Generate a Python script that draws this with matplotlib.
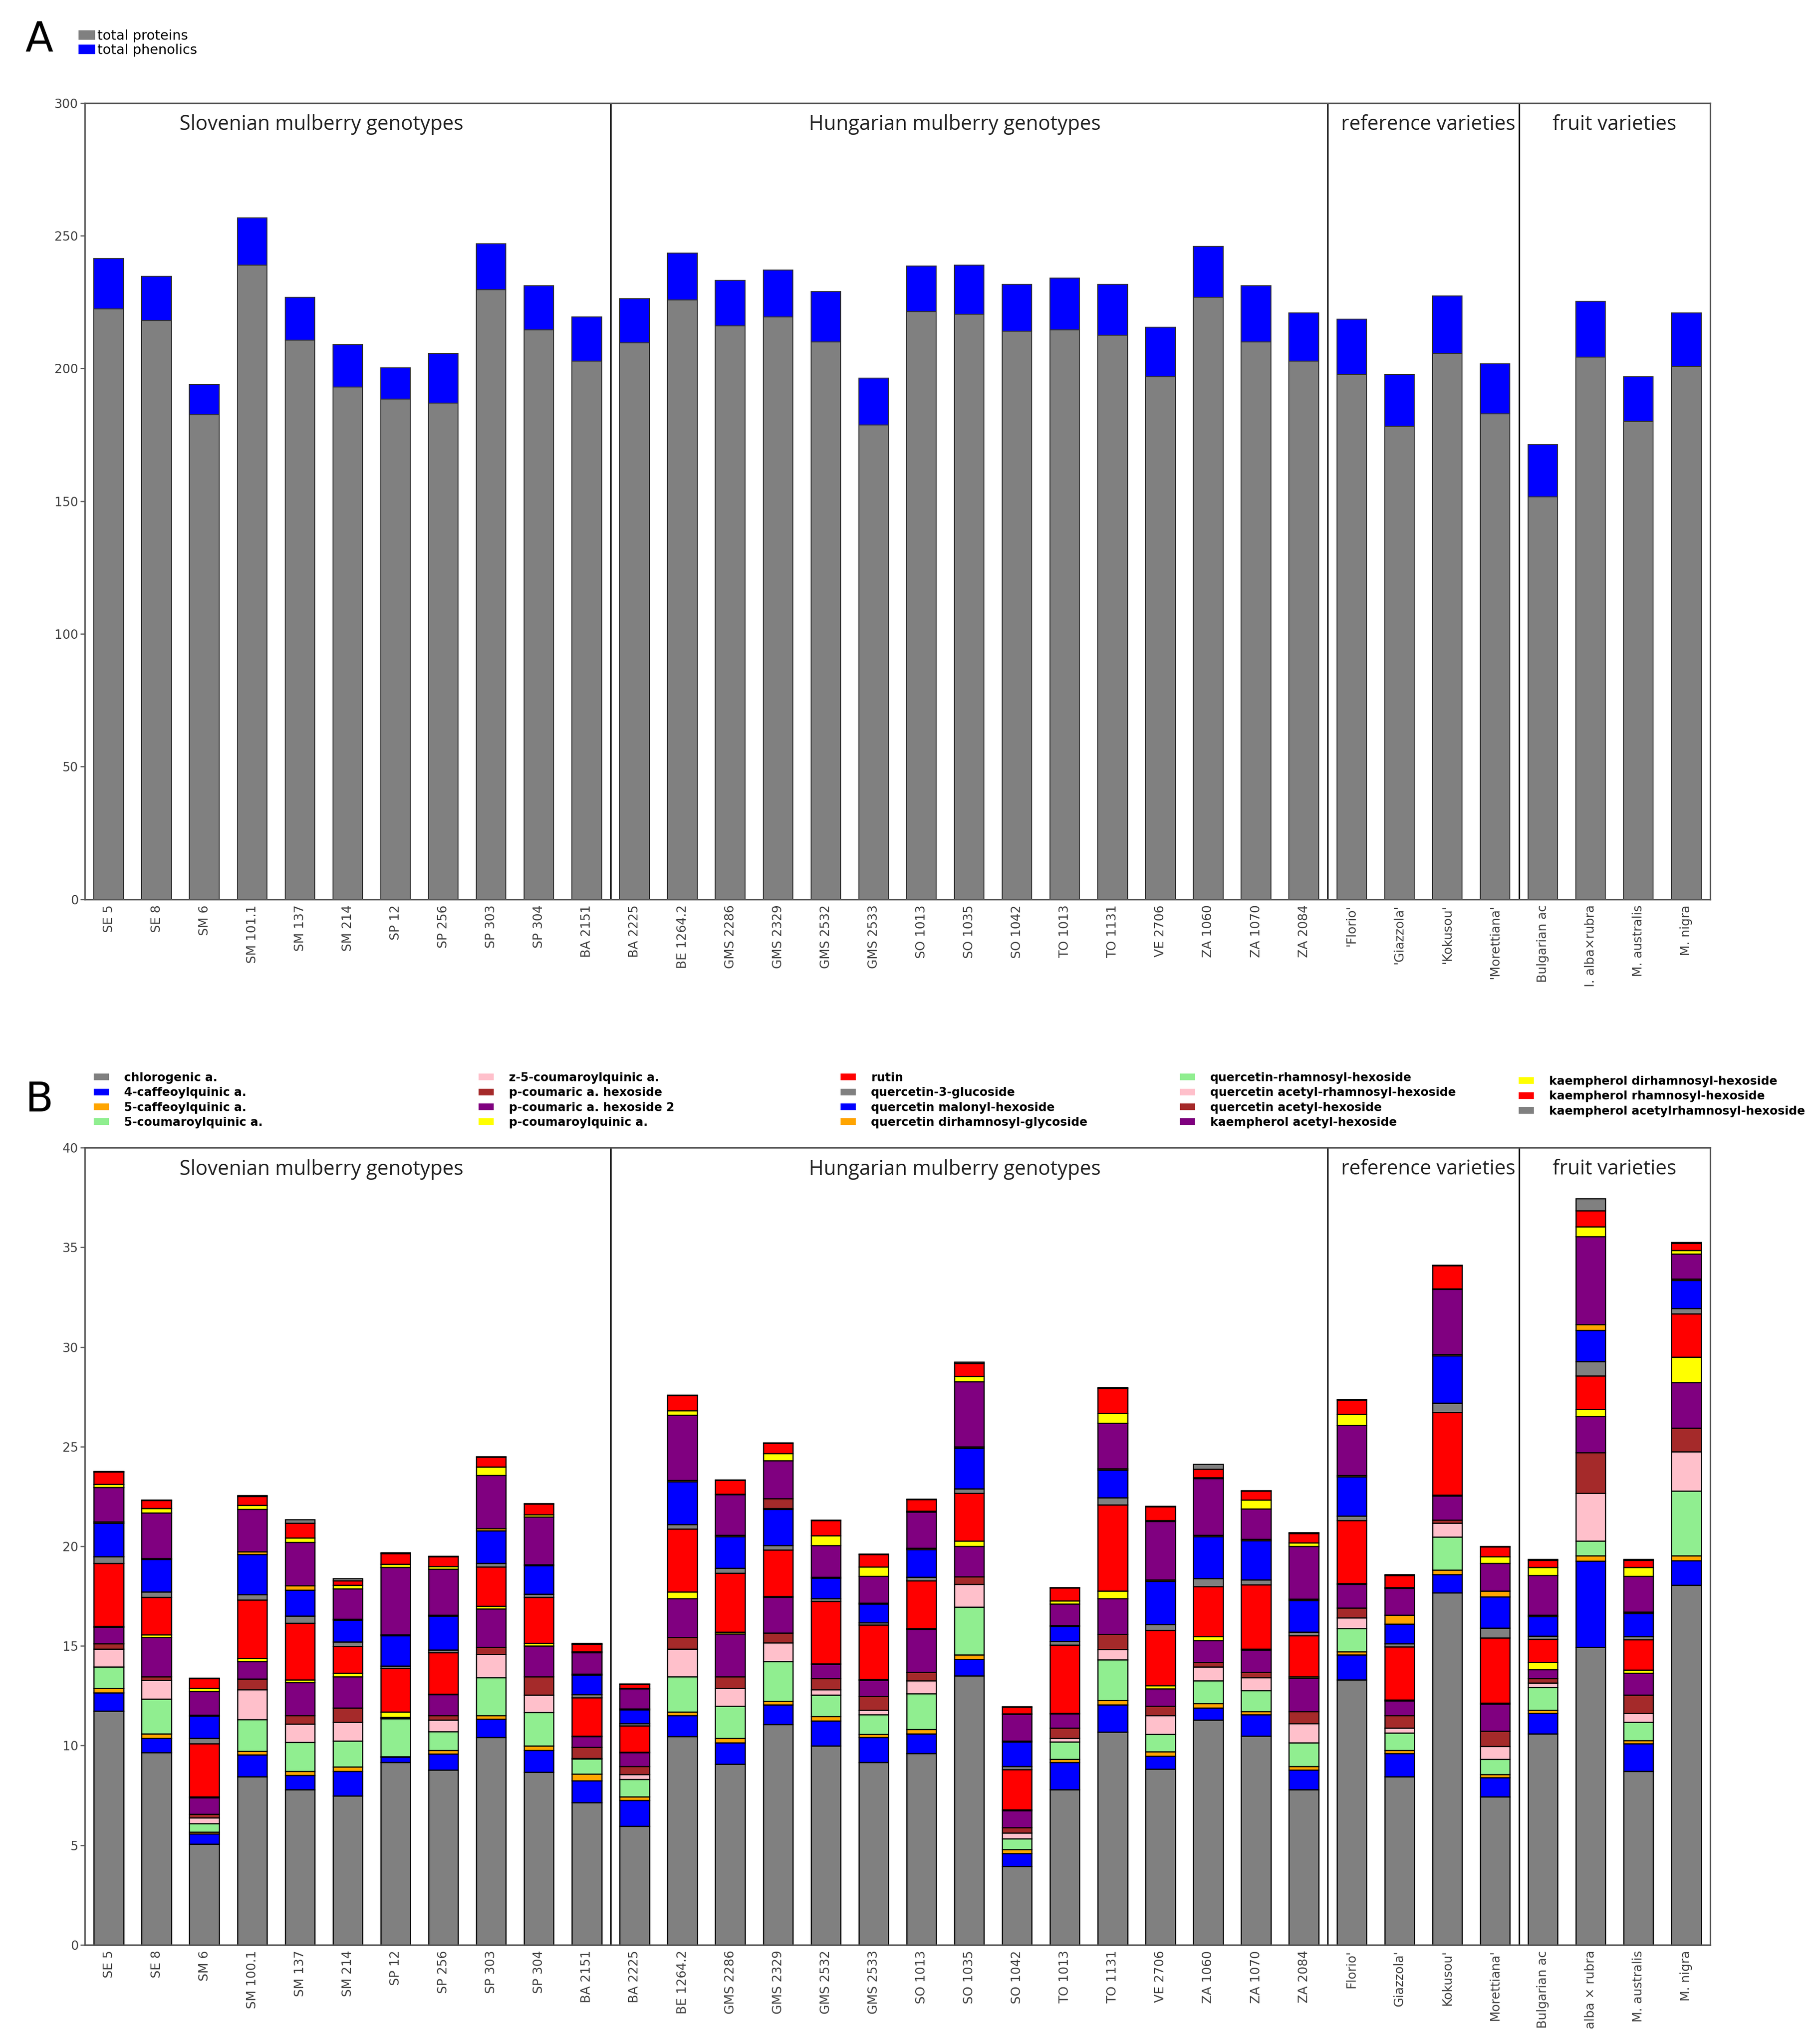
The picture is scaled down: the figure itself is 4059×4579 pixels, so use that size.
import numpy as np
import matplotlib
matplotlib.use("Agg")
import matplotlib.pyplot as plt
from matplotlib.patches import Patch

# ---------------- data ----------------
labels_A = ["SE 5", "SE 8", "SM 6", "SM 101.1", "SM 137", "SM 214", "SP 12", "SP 256", "SP 303",
            "SP 304", "BA 2151", "BA 2225", "BE 1264.2", "GMS 2286", "GMS 2329", "GMS 2532",
            "GMS 2533", "SO 1013", "SO 1035", "SO 1042", "TO 1013", "TO 1131", "VE 2706",
            "ZA 1060", "ZA 1070", "ZA 2084", "'Florio'", "'Giazzola'", "'Kokusou'", "'Morettiana'",
            "Bulgarian ac", "I. alba×rubra", "M. australis", "M. nigra"]
labels_B = ["SE 5", "SE 8", "SM 6", "SM 100.1", "SM 137", "SM 214", "SP 12", "SP 256", "SP 303",
            "SP 304", "BA 2151", "BA 2225", "BE 1264.2", "GMS 2286", "GMS 2329", "GMS 2532",
            "GMS 2533", "SO 1013", "SO 1035", "SO 1042", "TO 1013", "TO 1131", "VE 2706",
            "ZA 1060", "ZA 1070", "ZA 2084", "Florio'", "Giazzola'", "Kokusou'", "Morettiana'",
            "Bulgarian ac", "alba × rubra", "M. australis", "M. nigra"]

total_proteins = [222.4, 218.0, 182.6, 239.0, 210.6, 193.0, 188.5, 187.0, 229.7, 214.5, 202.7,
                  209.6, 225.8, 216.0, 219.4, 210.0, 178.7, 221.4, 220.4, 214.0, 214.5, 212.6,
                  196.9, 226.8, 210.0, 202.7, 197.8, 178.2, 205.7, 183.0, 151.7, 204.2, 180.0, 200.8]
total_phenolics = [19.1, 16.7, 11.4, 17.7, 16.2, 16.0, 11.8, 18.7, 17.3, 16.7, 16.7,
                   16.7, 17.7, 17.2, 17.6, 19.0, 17.7, 17.2, 18.6, 17.7, 19.5, 19.1,
                   18.6, 19.2, 21.2, 18.3, 20.7, 19.6, 21.6, 18.8, 19.6, 21.1, 16.9, 20.2]

chlorogenic = [11.73, 9.65, 5.07, 8.45, 7.80, 7.47, 9.15, 8.78, 10.42, 8.67, 7.15, 5.95, 10.46, 9.06,
               11.07, 9.98, 9.15, 9.61, 13.51, 3.93, 7.80, 10.68, 8.82, 11.29, 10.48, 7.80, 13.30,
               8.45, 17.66, 7.43, 10.59, 14.93, 8.72, 18.05]
caffeoylquinic_4 = [0.92, 0.72, 0.50, 1.09, 0.70, 1.24, 0.28, 0.81, 0.92, 1.09, 1.09, 1.31, 1.05, 1.09,
                    0.98, 1.26, 1.26, 0.98, 0.83, 0.65, 1.35, 1.37, 0.65, 0.61, 1.07, 0.98, 1.26,
                    1.16, 0.94, 0.96, 1.03, 4.32, 1.37, 1.24]
caffeoylquinic_5 = [0.22, 0.22, 0.09, 0.17, 0.22, 0.22, 0.03, 0.17, 0.17, 0.22, 0.33, 0.17, 0.17, 0.22,
                    0.17, 0.22, 0.17, 0.22, 0.22, 0.22, 0.17, 0.22, 0.22, 0.22, 0.17, 0.17, 0.15,
                    0.15, 0.22, 0.17, 0.15, 0.28, 0.17, 0.24]
coumaroylquinic_5 = [1.09, 1.74, 0.44, 1.61, 1.44, 1.31, 1.90, 0.94, 1.90, 1.68, 0.76, 0.87, 1.79, 1.61,
                     2.01, 1.09, 0.98, 1.79, 2.40, 0.54, 0.87, 2.03, 0.87, 1.13, 1.05, 1.20, 1.16,
                     0.87, 1.64, 0.76, 1.16, 0.74, 0.92, 3.25]
z_coumaroylquinic_5 = [0.89, 0.96, 0.28, 1.48, 0.92, 0.94, 0.02, 0.59, 1.16, 0.89, 0.03, 0.26, 1.37, 0.89,
                       0.94, 0.26, 0.22, 0.65, 1.13, 0.27, 0.17, 0.52, 0.94, 0.70, 0.65, 0.96, 0.55,
                       0.26, 0.70, 0.65, 0.22, 2.40, 0.44, 1.96]
p_coumaric_hex = [0.26, 0.17, 0.17, 0.55, 0.44, 0.72, 0.02, 0.22, 0.37, 0.92, 0.55, 0.39, 0.59, 0.59,
                  0.48, 0.55, 0.70, 0.44, 0.39, 0.27, 0.52, 0.76, 0.48, 0.22, 0.26, 0.61, 0.50,
                  0.61, 0.17, 0.76, 0.22, 2.03, 0.92, 1.20]
p_coumaric_hex2 = [0.83, 1.96, 0.85, 0.87, 1.64, 1.57, 0.02, 1.05, 1.92, 1.53, 0.55, 0.70, 1.96, 2.14,
                   1.79, 0.72, 0.81, 2.14, 1.53, 0.87, 0.72, 1.81, 0.87, 1.11, 1.13, 1.68, 1.18,
                   0.76, 1.20, 1.37, 0.44, 1.81, 1.09, 2.29]
p_coumaroylquinic = [0.05, 0.15, 0.03, 0.15, 0.15, 0.17, 0.28, 0.03, 0.15, 0.15, 0.03, 0.03, 0.33, 0.11,
                     0.05, 0.03, 0.03, 0.05, 0.26, 0.03, 0.03, 0.37, 0.17, 0.20, 0.03, 0.05, 0.05,
                     0.03, 0.05, 0.03, 0.37, 0.37, 0.17, 1.26]
rutin = [3.16, 1.88, 2.66, 2.94, 2.84, 1.35, 2.18, 2.07, 1.96, 2.29, 1.92, 1.31, 3.16, 2.94,
         2.33, 3.14, 2.73, 2.40, 2.40, 2.03, 3.42, 4.32, 2.77, 2.51, 3.23, 2.07, 3.16,
         2.66, 4.14, 3.27, 1.16, 1.68, 1.53, 2.18]
q3_glucoside = [0.33, 0.26, 0.28, 0.28, 0.35, 0.22, 0.11, 0.15, 0.17, 0.17, 0.15, 0.11, 0.22, 0.26,
                0.22, 0.13, 0.11, 0.17, 0.22, 0.15, 0.17, 0.37, 0.28, 0.39, 0.26, 0.17, 0.22,
                0.17, 0.48, 0.50, 0.15, 0.72, 0.15, 0.28]
q_malonyl_hex = [1.68, 1.64, 1.11, 2.01, 1.31, 1.09, 1.53, 1.70, 1.64, 1.42, 0.98, 0.70, 2.14, 1.59,
                 1.81, 1.03, 0.94, 1.40, 2.03, 1.22, 0.76, 1.37, 2.18, 2.12, 1.96, 1.59, 1.96,
                 0.98, 2.36, 1.57, 1.00, 1.57, 1.16, 1.40]
q_dirhamnosyl_glyc = [0.07, 0.05, 0.05, 0.13, 0.22, 0.05, 0.05, 0.05, 0.11, 0.05, 0.05, 0.05, 0.07, 0.05,
                      0.05, 0.05, 0.05, 0.05, 0.07, 0.05, 0.05, 0.07, 0.07, 0.07, 0.07, 0.07, 0.07,
                      0.44, 0.07, 0.28, 0.05, 0.28, 0.07, 0.07]
q_rhamnosyl_hex = [0.0, 0.0, 0.0, 0.0, 0.0, 0.0, 0.0, 0.0, 0.0, 0.0, 0.0, 0.0, 0.0, 0.0,
                   0.0, 0.0, 0.0, 0.0, 0.0, 0.0, 0.0, 0.0, 0.0, 0.0, 0.0, 0.0, 0.0,
                   0.0, 0.0, 0.0, 0.0, 0.0, 0.0, 0.0]
q_acetyl_rhamnosyl_hex = [0.0, 0.0, 0.0, 0.0, 0.0, 0.0, 0.0, 0.0, 0.0, 0.0, 0.0, 0.0, 0.0, 0.0,
                          0.0, 0.0, 0.0, 0.0, 0.0, 0.0, 0.0, 0.0, 0.0, 0.0, 0.0, 0.0, 0.0,
                          0.0, 0.0, 0.0, 0.0, 0.0, 0.0, 0.0]
q_acetyl_hex = [0.0, 0.0, 0.0, 0.0, 0.0, 0.0, 0.0, 0.0, 0.0, 0.0, 0.0, 0.0, 0.0, 0.0,
                0.50, 0.0, 0.0, 0.0, 0.0, 0.0, 0.0, 0.0, 0.0, 0.0, 0.0, 0.0, 0.0,
                0.0, 0.0, 0.0, 0.0, 0.0, 0.0, 0.0]
k_acetyl_hex = [1.72, 2.29, 1.20, 2.12, 2.18, 1.53, 3.38, 2.29, 2.68, 2.40, 1.09, 1.00, 3.27, 2.05,
                1.90, 1.59, 1.35, 1.83, 3.27, 1.35, 1.09, 2.29, 2.94, 2.84, 1.53, 2.66, 2.51,
                1.35, 3.27, 1.40, 2.01, 4.41, 1.79, 1.26]
k_dirhamnosyl_hex = [0.17, 0.22, 0.15, 0.22, 0.22, 0.17, 0.15, 0.15, 0.41, 0.10, 0.03, 0.03, 0.22, 0.03,
                     0.37, 0.48, 0.46, 0.03, 0.28, 0.03, 0.15, 0.50, 0.03, 0.03, 0.44, 0.17, 0.55,
                     0.05, 0.03, 0.33, 0.39, 0.50, 0.44, 0.17]
k_rhamnosyl_hex = [0.61, 0.39, 0.48, 0.44, 0.74, 0.22, 0.55, 0.48, 0.50, 0.55, 0.39, 0.20, 0.76, 0.68,
                   0.50, 0.76, 0.63, 0.59, 0.65, 0.33, 0.65, 1.26, 0.70, 0.44, 0.44, 0.48, 0.72,
                   0.61, 1.16, 0.50, 0.37, 0.81, 0.37, 0.37]
k_acetylrhamnosyl_hex = [0.03, 0.03, 0.03, 0.05, 0.17, 0.11, 0.03, 0.03, 0.03, 0.03, 0.03, 0.03, 0.03, 0.03,
                         0.03, 0.03, 0.03, 0.03, 0.07, 0.03, 0.03, 0.03, 0.03, 0.24, 0.03, 0.03, 0.03,
                         0.03, 0.03, 0.03, 0.03, 0.61, 0.03, 0.03]

compound_names = ["chlorogenic a.", "4-caffeoylquinic a.", "5-caffeoylquinic a.", "5-coumaroylquinic a.",
                  "z-5-coumaroylquinic a.", "p-coumaric a. hexoside", "p-coumaric a. hexoside 2",
                  "p-coumaroylquinic a.", "rutin", "quercetin-3-glucoside", "quercetin malonyl-hexoside",
                  "quercetin dirhamnosyl-glycoside", "quercetin-rhamnosyl-hexoside",
                  "quercetin acetyl-rhamnosyl-hexoside", "quercetin acetyl-hexoside",
                  "kaempherol acetyl-hexoside", "kaempherol dirhamnosyl-hexoside",
                  "kaempherol rhamnosyl-hexoside", "kaempherol acetylrhamnosyl-hexoside"]
compound_series = [chlorogenic, caffeoylquinic_4, caffeoylquinic_5, coumaroylquinic_5,
                   z_coumaroylquinic_5, p_coumaric_hex, p_coumaric_hex2, p_coumaroylquinic, rutin,
                   q3_glucoside, q_malonyl_hex, q_dirhamnosyl_glyc, q_rhamnosyl_hex,
                   q_acetyl_rhamnosyl_hex, q_acetyl_hex, k_acetyl_hex, k_dirhamnosyl_hex,
                   k_rhamnosyl_hex, k_acetylrhamnosyl_hex]
compound_colors = ["#808080", "#0000FF", "#FFA500", "#90EE90", "#FFC0CB", "#A52A2A", "#800080",
                   "#FFFF00", "#FF0000", "#808080", "#0000FF", "#FFA500", "#90EE90", "#FFC0CB",
                   "#A52A2A", "#800080", "#FFFF00", "#FF0000", "#808080"]

group_names = ["Slovenian mulberry genotypes", "Hungarian mulberry genotypes",
               "reference varieties", "fruit varieties"]
group_label_pos = [4.45, 17.7, 27.6, 31.5]
group_separators = [10.5, 25.5, 29.5]

# ---------------- figure ----------------
W, H, DPI = 4059, 4579, 300
fig = plt.figure(figsize=(W / DPI, H / DPI), dpi=DPI)
plt.rcParams['font.family'] = ['Open Sans', 'DejaVu Sans']

tick_color = "#404040"
x = np.arange(len(labels_A))
bw = 0.62


def style_axes(ax, ymax, ystep, labels):
    ax.set_xlim(-0.5, len(labels) - 0.5)
    ax.set_ylim(0, ymax)
    ax.set_yticks(np.arange(0, ymax + 0.1, ystep))
    ax.set_xticks(x)
    ax.set_xticklabels(labels, rotation=90, fontsize=6.7, color=tick_color,
                       family=['Liberation Sans Narrow', 'DejaVu Sans'])
    ax.tick_params(axis='x', length=0, pad=3)
    ax.tick_params(axis='y', labelsize=6.7, labelcolor=tick_color, length=2.5, width=0.6,
                   color="#555555", pad=1)
    for lab in ax.get_yticklabels():
        lab.set_family(['Liberation Sans Narrow', 'DejaVu Sans'])
    for s in ax.spines.values():
        s.set_color("#555555")
        s.set_linewidth(0.8)
    for sx in group_separators:
        ax.axvline(sx, color="black", lw=0.8)
    for name, gx in zip(group_names, group_label_pos):
        ax.text(gx, 0.973, name, transform=ax.get_xaxis_transform(), ha='center', va='center',
                fontsize=10.8, color="#222222")


# Panel A
axA = fig.add_axes([0.0468, 0.560, 0.897, 0.3896])
axA.bar(x, total_proteins, width=bw, color="#808080", edgecolor="#333333", lw=0.5)
axA.bar(x, total_phenolics, width=bw, bottom=total_proteins, color="#0000FF",
        edgecolor="#333333", lw=0.5)
style_axes(axA, 300, 50, labels_A)

# Panel B
axB = fig.add_axes([0.0468, 0.0485, 0.897, 0.390])
bottom = np.zeros(len(labels_B))
for vals, col in zip(compound_series, compound_colors):
    vals = np.asarray(vals)
    axB.bar(x, vals, width=bw, bottom=bottom, color=col, edgecolor="black", lw=0.6)
    bottom = bottom + vals
style_axes(axB, 40, 5, labels_B)

# Panel letters
fig.text(88 / W, 1 - 90 / H, "A", fontsize=22, ha='center', va='center',
         family=['DejaVu Sans'])
fig.text(88 / W, 1 - 2464 / H, "B", fontsize=22, ha='center', va='center',
         family=['DejaVu Sans'])

# Legend A
legA = fig.legend(handles=[Patch(color="#808080"), Patch(color="#0000FF")],
                  labels=["total proteins", "total phenolics"], loc='upper left',
                  bbox_to_anchor=(178 / W, 1 - 66 / H), frameon=False,
                  handlelength=1.1, handleheight=0.5, handletextpad=0.2, labelspacing=0.1,
                  borderpad=0, borderaxespad=0,
                  prop={'family': ['Liberation Sans Narrow', 'DejaVu Sans'], 'size': 7.3})

# Legend B (5 columns)
col_idx = [[0, 1, 2, 3], [4, 5, 6, 7], [8, 9, 10, 11], [12, 13, 14, 15], [16, 17, 18]]
col_x = [210, 1072, 1883, 2643, 3402]
col_top = [2402, 2402, 2402, 2402, 2410]
for idxs, cx, ct in zip(col_idx, col_x, col_top):
    handles = [Patch(facecolor=compound_colors[i], edgecolor='none') for i in idxs]
    labs = [compound_names[i] for i in idxs]
    fig.legend(handles=handles, labels=labs, loc='upper left',
               bbox_to_anchor=(cx / W, 1 - ct / H), frameon=False,
               handlelength=1.3, handleheight=0.5, handletextpad=1.3, labelspacing=0.28,
               borderpad=0, borderaxespad=0,
               prop={'family': ['Liberation Sans Narrow', 'DejaVu Sans'], 'size': 6.3,
                     'weight': 'bold'})

fig.savefig("out.png", dpi=DPI)
